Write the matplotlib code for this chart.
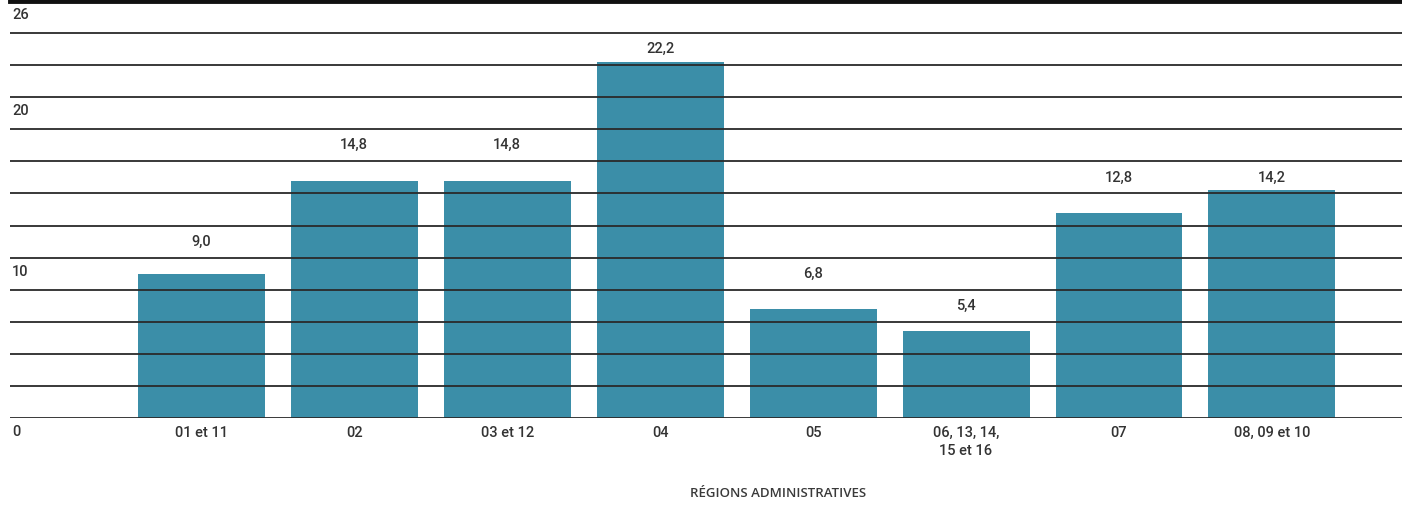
import numpy as np
import matplotlib.pyplot as plt

# Données
regions = ["01 et 11", "02", "03 et 12", "04", "05", "06, 13, 14,\n15 et 16", "07", "08, 09 et 10"]
valeurs = [9.0, 14.8, 14.8, 22.2, 6.8, 5.4, 12.8, 14.2]
etiquettes = ["9,0", "14,8", "14,8", "22,2", "6,8", "5,4", "12,8", "14,2"]
graduations = [0, 10, 20, 26]

police = ["Roboto", "DejaVu Sans"]
couleur_barre = "#3b8ea8"
couleur_texte = "#333333"

fig = plt.figure(figsize=(14.02, 5.08), dpi=100)
ax = fig.add_axes([10 / 1402, 90 / 508, 1392 / 1402, 417 / 508])

x = np.arange(len(regions))
ax.bar(x, valeurs, width=0.83, color=couleur_barre, zorder=1)

# lignes horizontales (par-dessus les barres)
for yy in np.arange(0, 26, 2):
    ax.axhline(yy, color="#2a2a2a", lw=1.3, zorder=3)
ax.axhline(26, color="#111111", lw=3.5, zorder=3, clip_on=False)

# valeurs au-dessus des barres, centrées dans la bande libre
for xi, v, lab in zip(x, valeurs, etiquettes):
    yl = 2 * np.ceil((v - 0.4) / 2) + 1
    ax.text(xi, yl, lab, ha="center", va="center", fontsize=10.5,
            family=police, weight="medium", color=couleur_texte)

# étiquettes des régions
for xi, r in zip(x, regions):
    ax.text(xi, -0.5, r, ha="center", va="top", fontsize=10.5,
            family=police, weight="medium", color=couleur_texte, linespacing=1.4)

# graduations de l'axe vertical
for g in graduations:
    ax.text(-1.235, g - 0.45, str(g), ha="left", va="top", fontsize=10.5,
            family=police, weight="medium", color=couleur_texte)

ax.text(3.77, -4.7, "RÉGIONS ADMINISTRATIVES", ha="center", va="center",
        fontsize=9.5, family=["Open Sans", "DejaVu Sans"], weight="semibold",
        color="#3a3a3a")

ax.set_xlim(-1.25, 7.85)
ax.set_ylim(0, 26)
ax.axis("off")

fig.savefig("out.png", dpi=100)
